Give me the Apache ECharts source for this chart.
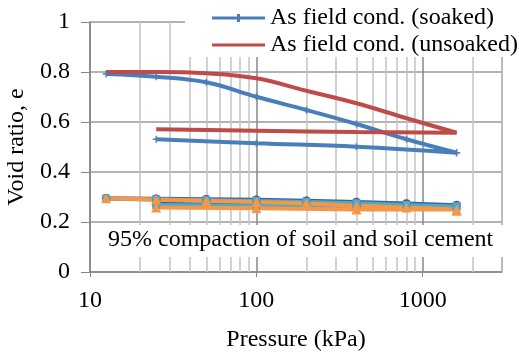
<!DOCTYPE html>
<html>
<head>
<meta charset="utf-8">
<script src="https://cdn.jsdelivr.net/npm/echarts@6/dist/echarts.min.js"></script>
<style>html,body{margin:0;padding:0;background:#fff;}#c{width:519px;height:352px;}</style>
</head>
<body>
<div id="c"></div>
<script>
// Pressure steps (kPa)
var pLoad = [12.5, 25, 50, 100, 200, 400, 800, 1600];
var pUnload = [1600, 400, 100, 25];
// As field cond. (soaked)
var soakedLoad = [0.792, 0.781, 0.759, 0.701, 0.648, 0.592, 0.531, 0.477];
var soakedUnload = [0.477, 0.501, 0.515, 0.531];
// As field cond. (unsoaked)
var unsoakedLoad = [0.80, 0.80, 0.795, 0.775, 0.725, 0.675, 0.615, 0.557];
var unsoakedUnload = [0.557, 0.56, 0.565, 0.571];
// 95% compaction series (soil / soil cement)
var c1Load = [0.295, 0.293, 0.291, 0.289, 0.285, 0.280, 0.274, 0.267];
var c1Unload = [0.267, 0.268, 0.270, 0.272];
var c2Load = [0.293, 0.290, 0.287, 0.284, 0.280, 0.275, 0.268, 0.262];
var c2Unload = [0.262, 0.263, 0.265, 0.268];
var c3Load = [0.292, 0.288, 0.284, 0.280, 0.275, 0.268, 0.262, 0.255];
var c3Unload = [0.255, 0.256, 0.258, 0.260];
var c4Load = [0.295, 0.290, 0.285, 0.280, 0.274, 0.265, 0.258, 0.250];
var c4Unload = [0.245, 0.250, 0.255, 0.258];
// Axis ticks
var xMin = 10, xMax = 3000;
var majorX = [10, 100, 1000];
var minorX = [20, 30, 40, 50, 60, 70, 80, 90, 200, 300, 400, 500, 600, 700, 800, 900, 2000, 3000];
var legendNames = ['As field cond. (soaked)', 'As field cond. (unsoaked)'];
var note = '95% compaction of soil and soil cement';

function pairs(xs, ys) { return xs.map(function (x, i) { return [x, ys[i]]; }); }
function loop(load, unload) { return pairs(pLoad, load).concat(pairs(pUnload, unload)); }

var FONT = '"Liberation Serif", "Times New Roman", serif';
var FS = 24;
var plus = 'path://M4,0H6V4H10V6H6V10H4V6H0V4H4Z';
var iconBlue = 'path://M0,3.5H25V1H28V3.5H53V6.5H28V9H25V6.5H0Z';
var iconRed = 'path://M0,3.5H53V6.5H0Z';

var chart = echarts.init(document.getElementById('c'), null, {renderer: 'canvas'});
chart.setOption({
  animation: false,
  backgroundColor: '#fff',
  textStyle: {fontFamily: FONT},
  grid: {left: 90, right: 17, top: 22, bottom: 80, containLabel: false, outerBoundsMode: 'none'},
  graphic: {
    z: 2,
    elements: [{
      type: 'rect', z: 2, silent: true,
      shape: {x: 185, y: 0, width: 334, height: 57},
      style: {fill: '#fff'}
    }]
  },
  title: {
    text: note, left: 96, top: 225, z: 6,
    backgroundColor: '#fff',
    padding: [3, 10, 5, 12],
    textStyle: {fontFamily: FONT, fontSize: FS, fontWeight: 'normal', color: '#000'}
  },
  legend: {
    data: [{name: legendNames[0], icon: iconBlue}, {name: legendNames[1], icon: iconRed}],
    orient: 'vertical', left: 186, top: 0, z: 6,
    padding: [6, 2, 5, 26], itemGap: 3,
    itemWidth: 53, itemHeight: 10,
    textStyle: {fontFamily: FONT, fontSize: FS, color: '#000'}
  },
  xAxis: {
    type: 'log', logBase: 10, min: xMin, max: xMax,
    name: 'Pressure (kPa)', nameLocation: 'middle', nameGap: 56,
    nameTextStyle: {fontFamily: FONT, fontSize: FS, color: '#000'},
    axisLine: {lineStyle: {color: '#878787', width: 1.5}},
    axisTick: {show: true, length: 5, lineStyle: {color: '#878787'}},
    axisLabel: {fontFamily: FONT, fontSize: FS, color: '#000', margin: 17, showMaxLabel: false,
      formatter: function (v) { return majorX.indexOf(Math.round(v)) >= 0 ? String(Math.round(v)) : ''; }},
    splitLine: {show: true, lineStyle: {color: '#878787', width: 1.5}}
  },
  yAxis: {
    type: 'value', min: 0, max: 1, interval: 0.2,
    name: 'Void ratio, e', nameLocation: 'middle', nameGap: 57,
    nameTextStyle: {fontFamily: FONT, fontSize: FS, color: '#000'},
    axisLine: {show: true, lineStyle: {color: '#878787', width: 1.5}},
    axisTick: {show: true, inside: false, length: 9, lineStyle: {color: '#878787'}},
    axisLabel: {fontFamily: FONT, fontSize: FS, color: '#000', margin: 20,
      formatter: function (v) { return String(+v.toFixed(1)); }},
    splitLine: {show: true, lineStyle: {color: '#9a9a9a', width: 1.5}}
  },
  series: [
    {
      name: 'minor-grid', type: 'line', data: [], silent: true, z: 0,
      markLine: {silent: true, z: 1, symbol: 'none', label: {show: false}, emphasis: {disabled: true},
        lineStyle: {color: '#c3c3c3', type: 'solid', width: 1.5},
        data: minorX.map(function (v) { return {xAxis: v}; })}
    },
    {
      name: legendNames[0], type: 'line', smooth: 0.4, data: loop(soakedLoad, soakedUnload),
      symbol: plus, symbolSize: 7, color: '#4a7ebb',
      lineStyle: {color: '#4a7ebb', width: 4}, itemStyle: {color: '#4a7ebb'}, z: 3
    },
    {
      name: legendNames[1], type: 'line', smooth: 0.4, data: loop(unsoakedLoad, unsoakedUnload),
      symbol: 'none', color: '#be4b48',
      lineStyle: {color: '#be4b48', width: 4}, itemStyle: {color: '#be4b48'}, z: 3
    },
    {
      name: 'c1', type: 'line', data: loop(c1Load, c1Unload), symbol: 'circle', symbolSize: 8,
      lineStyle: {color: '#3b62a0', width: 4}, itemStyle: {color: '#3b62a0', borderColor: '#7b4f9d', borderWidth: 1}, z: 3
    },
    {
      name: 'c2', type: 'line', data: loop(c3Load, c3Unload), symbol: 'none',
      lineStyle: {color: '#9bbb59', width: 3}, z: 3
    },
    {
      name: 'c3', type: 'line', data: loop(c2Load, c2Unload), symbol: 'rect', symbolSize: 8,
      lineStyle: {color: '#4bacc6', width: 4}, itemStyle: {color: '#4bacc6'}, z: 3
    },
    {
      name: 'c4', type: 'line', data: loop(c4Load, c4Unload), symbol: 'triangle', symbolSize: 10,
      lineStyle: {color: '#f79646', width: 4}, itemStyle: {color: '#f79646'}, z: 3
    }
  ]
});
</script>
</body>
</html>
